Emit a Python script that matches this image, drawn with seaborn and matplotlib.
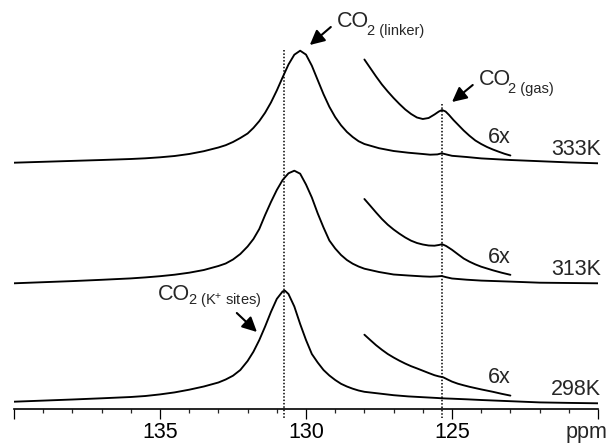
import numpy as np
import pandas as pd
import matplotlib
matplotlib.use("Agg")
import matplotlib.pyplot as plt
import seaborn as sns

# ---------------- data ----------------
temps = ["333K", "313K", "298K"]

ppm_grid = [140.0, 139.0, 138.0, 137.0, 136.0, 135.5, 135.0, 134.5, 134.0, 133.5,
            133.0, 132.75, 132.5, 132.25, 132.0, 131.8, 131.6, 131.4, 131.2, 131.0,
            130.8, 130.6, 130.4, 130.2, 130.0, 129.8, 129.6, 129.4, 129.2, 129.0,
            128.8, 128.6, 128.4, 128.2, 128.0, 127.5, 127.0, 126.5, 126.0, 125.75,
            125.5, 125.35, 125.2, 125.0, 124.5, 124.0, 123.0, 122.0, 121.0, 120.0]

int_333 = [1.3, 2.2, 3.1, 4.0, 5.0, 5.7, 6.7, 8.0, 10.0, 12.8,
           16.5, 18.8, 22.0, 26.0, 30.5, 36.1, 42.9, 51.3, 61.5, 73.5,
           86.7, 99.5, 109.3, 113.3, 109.4, 98.3, 84.0, 69.8, 57.2, 46.9,
           38.7, 32.1, 27.0, 22.8, 20.0, 15.8, 13.0, 11.3, 10.0, 9.3,
           9.6, 10.7, 9.6, 8.2, 7.0, 5.6, 4.0, 2.8, 1.6, 0.7]

int_313 = [0.7, 1.8, 2.9, 4.2, 5.6, 6.6, 7.8, 9.3, 11.3, 14.0,
           18.0, 20.5, 24.5, 30.0, 37.5, 45.0, 55.0, 69.0, 82.0, 94.0,
           104.0, 110.7, 113.3, 110.3, 99.5, 86.5, 70.7, 56.5, 43.5, 35.5,
           29.0, 24.0, 20.3, 17.5, 15.3, 12.0, 9.5, 8.5, 7.6, 7.3,
           7.6, 8.0, 6.8, 5.5, 4.3, 3.4, 2.4, 1.3, 1.0, 0.7]

int_298 = [2.3, 3.4, 4.5, 5.7, 7.0, 8.0, 9.6, 11.6, 14.3, 17.5,
           21.5, 24.5, 28.3, 34.0, 43.0, 52.3, 63.9, 77.5, 92.1, 105.1,
           112.6, 110.0, 97.5, 80.0, 64.0, 50.0, 41.5, 34.0, 28.5, 24.0,
           20.2, 17.5, 15.3, 13.5, 12.2, 10.5, 8.8, 7.6, 6.8, 6.4,
           6.0, 5.7, 5.5, 5.3, 4.7, 4.0, 2.8, 1.6, 1.1, 0.7]

# peak maximum of the 298K trace
peak_298 = (130.72, 113.3)

# 6x expanded insets (displayed heights)
inset_ppm_333 = [128.0, 127.8, 127.6, 127.4, 127.2, 127.0, 126.8, 126.6, 126.4, 126.2,
                 126.0, 125.8, 125.6, 125.45, 125.34, 125.22, 125.1, 124.95, 124.8, 124.6,
                 124.4, 124.2, 124.0, 123.8, 123.6, 123.4, 123.2, 123.0]
inset_333 = [104.5, 96.0, 87.5, 79.5, 72.5, 66.0, 60.0, 54.5, 50.0, 46.5,
             45.0, 46.0, 49.5, 52.5, 54.0, 52.5, 49.0, 44.0, 39.5, 33.5,
             28.2, 23.5, 20.0, 17.0, 14.5, 12.3, 10.2, 8.5]

inset_ppm_313 = [128.0, 127.8, 127.6, 127.4, 127.2, 127.0, 126.8, 126.6, 126.4, 126.2,
                 126.0, 125.8, 125.6, 125.45, 125.34, 125.2, 125.0, 124.8, 124.6, 124.4,
                 124.2, 124.0, 123.6, 123.3, 123.0]
inset_313 = [85.0, 78.3, 71.5, 65.0, 59.3, 54.5, 50.3, 46.5, 43.3, 41.0,
             39.5, 38.5, 38.3, 39.0, 39.8, 38.0, 34.2, 29.8, 25.5, 22.3,
             19.6, 17.3, 13.7, 11.3, 9.2]

inset_ppm_298 = [128.0, 127.8, 127.6, 127.4, 127.2, 127.0, 126.8, 126.6, 126.4, 126.2,
                 126.0, 125.8, 125.6, 125.45, 125.3, 125.15, 125.0, 124.8, 124.6, 124.4,
                 124.2, 124.0, 123.6, 123.3, 123.0]
inset_298 = [69.3, 64.0, 58.8, 54.2, 50.0, 46.5, 43.3, 40.4, 37.8, 35.6,
             33.3, 31.0, 28.8, 27.6, 26.7, 24.5, 22.4, 20.3, 18.7, 17.2,
             15.9, 14.6, 12.2, 10.2, 8.4]

marker_ppm = [130.75, 125.34]
x_ticks = [140, 135, 130, 125, 120]
x_tick_labels = ["", "135", "130", "125", ""]

# ---------------- plotting ----------------
sns.set_style("white")
plt.rcParams["font.family"] = ["Liberation Sans", "DejaVu Sans"]
plt.rcParams["mathtext.fontset"] = "custom"
plt.rcParams["mathtext.rm"] = "Liberation Sans"
plt.rcParams["mathtext.it"] = "Liberation Sans"

fig = plt.figure(figsize=(6.09, 4.45), dpi=100)
ax = fig.add_axes([14 / 609, 36 / 445, 584 / 609, 409 / 445])


def with_peak(px, iy, peak=None):
    px, iy = list(px), list(iy)
    if peak is not None:
        # insert the read peak maximum at its place in the descending ppm grid
        for k, p in enumerate(px):
            if p < peak[0]:
                px.insert(k, peak[0])
                iy.insert(k, peak[1])
                break
    return px, iy


offsets = [245, 125, 5]
mains = [with_peak(ppm_grid, int_333), with_peak(ppm_grid, int_313),
         with_peak(ppm_grid, int_298, peak_298)]
insets = [(inset_ppm_333, inset_333), (inset_ppm_313, inset_313), (inset_ppm_298, inset_298)]
LW = 1.35
for (px, iy), (ipx, iiy), off in zip(mains, insets, offsets):
    sns.lineplot(x=px, y=np.array(iy) + off, ax=ax, color="black", linewidth=LW,
                 sort=False, estimator=None)
    sns.lineplot(x=ipx, y=np.array(iiy) + off, ax=ax, color="black", linewidth=LW,
                 sort=False, estimator=None)

# dotted reference lines
tops = [359, 305]
for xm, yt in zip(marker_ppm, tops):
    ax.plot([xm, xm], [yt, -9], color="black", lw=1.1, ls=(0, (1.0, 1.2)),
            clip_on=False)

ax.set_xlim(140, 120)
ax.set_ylim(0, 409)
ax.set_yticks([])
for s in ["left", "top", "right"]:
    ax.spines[s].set_visible(False)
ax.spines["bottom"].set_linewidth(1.2)
ax.spines["bottom"].set_color("black")
ax.set_xticks(x_ticks)
ax.set_xticklabels(x_tick_labels)
ax.set_xticks(np.arange(120, 141, 1), minor=True)
ax.tick_params(axis="x", which="major", direction="out", length=7.2, width=0.9,
               labelsize=15.5, pad=2.5, colors="black", bottom=True)
ax.tick_params(axis="x", which="minor", direction="out", length=3.2, width=0.9,
               bottom=True)
ax.set_xlabel("")
ax.set_ylabel("")

ax.annotate("ppm", xy=(119.67, 0), xycoords=("data", "data"),
            xytext=(0, -9.7), textcoords="offset points", ha="right", va="top",
            fontsize=15.5, annotation_clip=False)

# labels
FS = 15.5
SFS = 10.5
for lab, yb in zip(temps, [254, 134, 14]):
    ax.text(119.91, yb, lab, ha="right", va="baseline", fontsize=FS)
for yb in [266, 146, 26]:
    ax.text(123.78, yb, "6x", ha="left", va="baseline", fontsize=FS)


def co2_label(x, y, sub):
    t = ax.text(x, y, "CO", ha="left", va="bottom", fontsize=FS)
    ax.annotate(sub, xy=(1, 0), xycoords=t, xytext=(-1.8, -4.3),
                textcoords="offset points", ha="left", va="bottom", fontsize=SFS)


co2_label(128.94, 377, "2 (linker)")
co2_label(124.08, 319, "2 (gas)")
co2_label(135.07, 104, "2 (K$^{+}$ sites)")

arrow = dict(arrowstyle="-|>", color="black", lw=1.5, mutation_scale=22,
             shrinkA=0, shrinkB=0)
ax.annotate("", xy=(129.87, 364), xytext=(129.15, 382), arrowprops=arrow)
ax.annotate("", xy=(125.0, 307), xytext=(124.29, 324), arrowprops=arrow)
ax.annotate("", xy=(131.68, 77), xytext=(132.37, 96), arrowprops=arrow)

fig.savefig("out.png", dpi=100)
